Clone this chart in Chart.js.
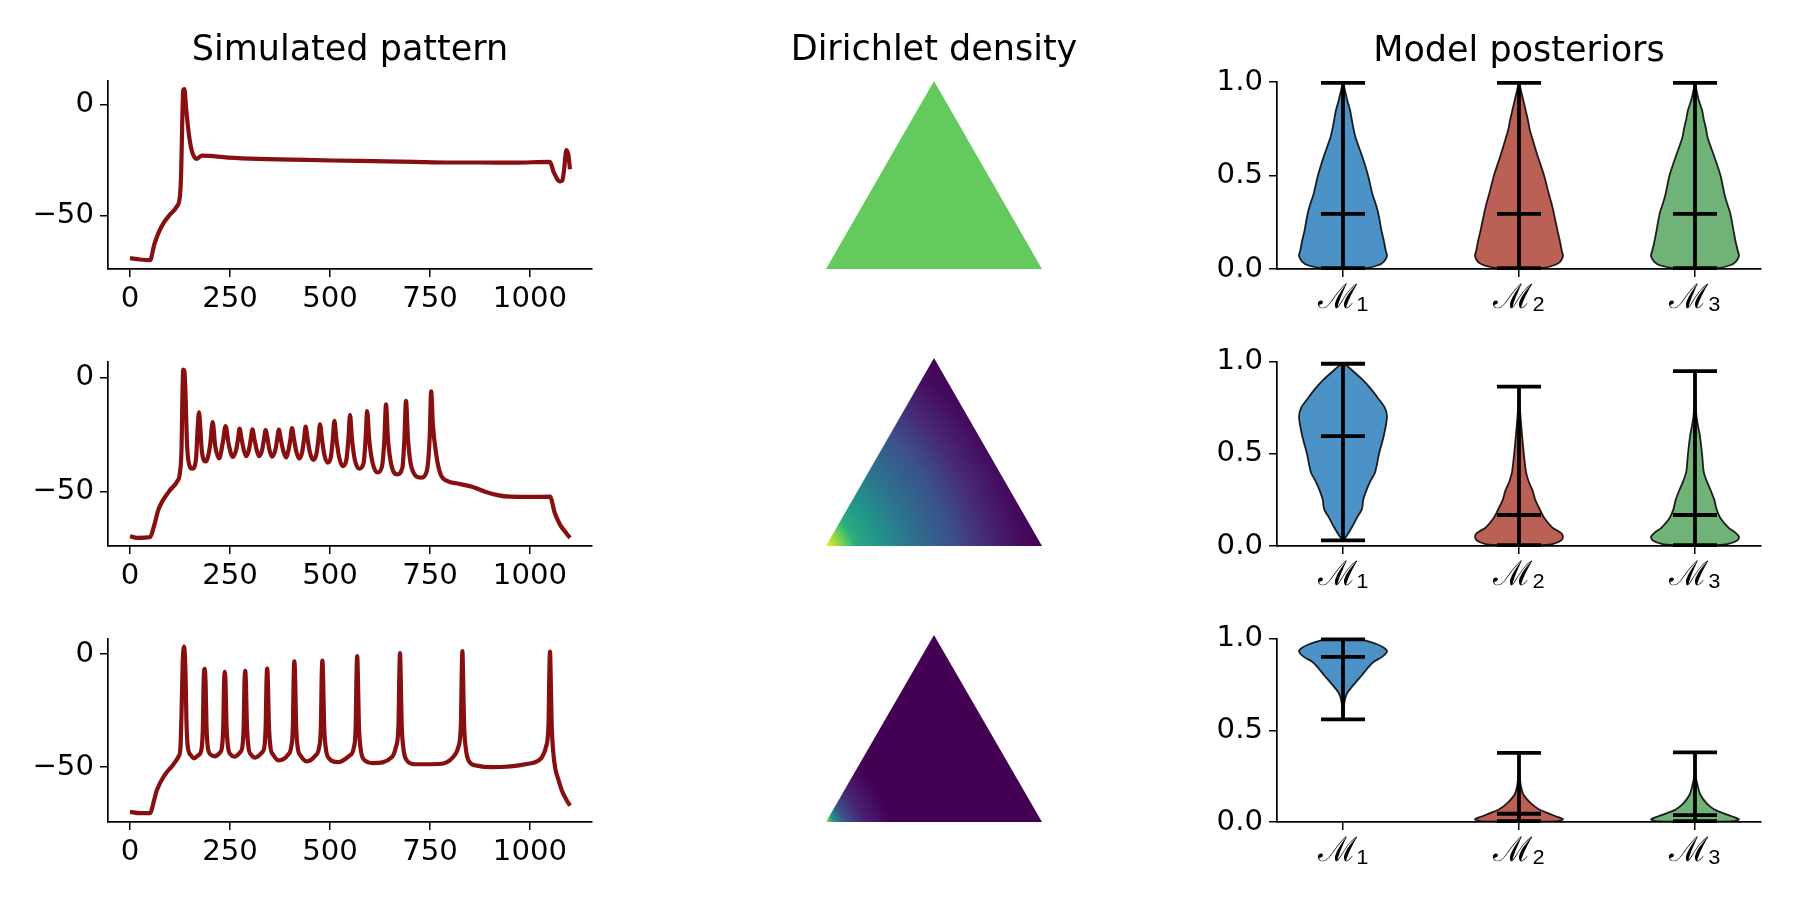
<!DOCTYPE html>
<html lang="en">
<head>
    <meta charset="UTF-8">
    <title>Simulated patterns, Dirichlet densities, model posteriors</title>
    <script src="https://cdn.jsdelivr.net/npm/chart.js@4"></script>
    <style>
        html, body { margin: 0; background: #fff; }
        #page { position: relative; width: 1800px; height: 900px; overflow: hidden; }
        canvas { position: absolute; }
    </style>
</head>
<body>
<div id="page"></div>
<script>
// titles and ticks
var columnTitles = ['Simulated pattern', 'Dirichlet density', 'Model posteriors'];
var traceTicksX = [0, 250, 500, 750, 1000];
var traceTicksY = [-50, 0];
var modelLabels = ['ℳ₁', 'ℳ₂', 'ℳ₃'];
var modelTicks = [1, 2, 3];
var posteriorTicks = [0, 0.5, 1];

// voltage traces
var trace1X = [0, 25, 50, 61, 71, 83, 100, 117, 125, 128, 130, 133, 136, 140, 147, 154, 166, 180, 245, 320, 401, 505, 610, 712, 790, 867, 960, 1050, 1059, 1075, 1081, 1085, 1091, 1096, 1100];
var trace1Y = [-69.3, -69.9, -70.2, -63, -58, -53.7, -49.6, -46, -41, -30, -13, 6.6, 7, -1, -13, -20.5, -24.5, -23, -23.9, -24.5, -24.8, -25.2, -25.5, -25.8, -26.1, -26.1, -26.2, -25.8, -30.4, -34.6, -34.1, -29.6, -20.5, -22.8, -29.2];

var trace2X = [0, 18, 50, 61, 71, 83, 100, 117, 125, 129, 131, 133, 136, 139, 142, 146, 156,
    165, 169, 172.5, 176, 180, 190, 200, 206.7, 213, 223, 232, 239, 246, 257, 265, 270, 274, 279, 285, 291, 297, 302, 306, 311, 317, 323,
    330, 335, 339, 344, 349, 355, 363, 368, 372, 377, 383, 390, 396, 401, 405, 410, 416, 423, 430, 435, 439, 444, 450, 458, 466, 471, 475, 480, 486, 494,
    502, 507, 511, 516, 523, 532, 541, 546, 550, 555, 562, 573, 584, 589, 593, 598, 606, 619, 630, 636, 640, 645, 653, 668, 681, 686, 690, 695, 704, 727, 742, 749, 753, 757, 766, 776, 795, 815, 857, 888, 919, 950, 1000, 1050, 1062, 1075, 1090, 1100];
var trace2Y = [-69.7, -70.4, -70.1, -64.6, -58, -53.7, -49.4, -45.8, -41.5, -29.9, -8.2, 3.6, 3, -8.2, -27, -36.4, -40,
    -35.7, -22.7, -15.2, -22.7, -32.8, -36.8, -29.9, -19.5, -29.9, -35.4, -28.5, -21.2, -28.5, -34.8, -32, -27, -22.3, -27, -32, -34.5, -32, -27, -22.7, -27, -32, -34.5,
    -32, -27, -23, -27, -32, -34.7, -32, -27, -22.8, -27, -32, -35, -32, -27, -22.1, -27, -32.5, -35.5, -33, -27, -21.5, -27, -33, -36.1, -33.5, -27, -20.4, -27, -34, -37.3,
    -35, -27, -18.9, -27, -35, -38.9, -36, -27, -16.3, -27, -36, -40, -37.5, -27, -14.6, -27, -37, -41.6, -39, -27, -11.6, -27, -38, -42.5, -39.5, -27, -10.1, -27, -39.5, -43.9, -41, -27, -5.9, -20, -34.2, -42.2, -45.5, -46.4, -48, -50.1, -51.6, -52.3, -52.4, -52.3, -59.5, -64.6, -68.2, -70.4];

var trace3X = [0, 25, 50, 61, 67, 87.5, 108, 121, 126, 128, 130, 131.7, 135, 139, 141, 144, 152, 160, 171, 179, 182.5, 184, 186.7, 189, 191, 195, 204, 211,
    225, 230, 233.5, 235, 237, 239, 241, 245, 252, 261,
    275, 281, 284.5, 286, 288, 290, 292, 296, 303, 313,
    330, 336, 339.5, 341, 343, 345, 347, 351, 358, 372,
    395, 403, 407.5, 409, 411, 413, 415, 419, 427, 442,
    463, 473, 477.5, 479, 481, 483, 485, 489, 497, 520,
    548, 560, 564.5, 566, 568, 570, 572, 576, 584, 608,
    655, 665, 671.5, 673, 675, 677, 679, 683, 692, 712, 774,
    808, 821, 827.5, 829, 831, 833, 835, 839, 848, 867, 904, 992,
    1028, 1040, 1046.5, 1048, 1050, 1052, 1054, 1058, 1064, 1072, 1080, 1090, 1100];
var trace3Y = [-69.7, -70.3, -70.3, -64.1, -60.2, -53.3, -48.9, -45.4, -41.8, -31.7, -17.3, -4.3, 3.2, -10, -28.8, -40.3, -44.7, -46.1, -44.7, -41.8, -30.2, -12.9, -6.6, -12.9, -30.2, -41.8, -44.7, -45.2,
    -43.5, -41, -30, -14, -7.9, -14, -30, -41, -44.5, -45.4,
    -43.5, -41, -30, -14, -7.5, -14, -30, -41, -44.5, -45.8,
    -43.5, -41, -30, -14, -6.5, -14, -30, -41, -44.5, -47,
    -44.5, -41, -30, -12, -3.3, -12, -30, -41, -45, -47.4,
    -45, -41, -30, -12, -3, -12, -30, -41, -46, -47.8,
    -45, -41, -30, -12, -1, -12, -30, -41, -46.5, -48.2,
    -45.5, -41, -30, -12, 0.4, -12, -30, -41, -47, -48.7, -48.6,
    -45.5, -41, -30, -12, 1.2, -12, -30, -41, -47.5, -49.3, -50, -48.6,
    -46, -41, -30, -12, 1, -12, -30, -43, -51.2, -56, -60.5, -64, -67];

// density along the edge from the lower left corner (fraction of the side)
var viridis = ['#440154', '#482475', '#414487', '#355f8d', '#2a788e', '#21918c', '#22a884', '#44bf70', '#7ad151', '#bddf26', '#fde725'];
var simplexX = [0, 0.5, 1];
var simplexY = [0, 1, 0];
var densityDist = [0, 0.08, 0.14, 0.25, 0.4, 0.6, 0.74, 0.9, 1];
var density1 = [0.76, 0.76, 0.76, 0.76, 0.76, 0.76, 0.76, 0.76, 0.76];
var density2 = [1, 0.8, 0.62, 0.52, 0.38, 0.24, 0.12, 0.03, 0];
var density3Dist = [0, 0.015, 0.04, 0.09, 0.17, 0.3, 1];
var density3 = [1, 0.75, 0.5, 0.25, 0.1, 0, 0];

// violin outlines: posterior level and relative density
var v11Level = [0.005, 0.02, 0.04, 0.07, 0.1, 0.15, 0.2, 0.3, 0.35, 0.4, 0.5, 0.6, 0.7, 0.75, 0.8, 0.85, 0.9, 0.95, 0.995];
var v11Dens = [0.52, 0.8, 0.93, 1, 0.97, 0.93, 0.88, 0.8, 0.74, 0.67, 0.57, 0.44, 0.29, 0.24, 0.2, 0.16, 0.1, 0.05, 0.005];
var v12Dens = [0.52, 0.8, 0.94, 1, 0.97, 0.93, 0.88, 0.79, 0.74, 0.68, 0.57, 0.43, 0.3, 0.24, 0.2, 0.15, 0.1, 0.05, 0.005];
var v13Dens = [0.52, 0.8, 0.93, 1, 0.97, 0.92, 0.88, 0.8, 0.73, 0.67, 0.58, 0.44, 0.29, 0.25, 0.2, 0.16, 0.09, 0.04, 0.005];

var v21Level = [0.03, 0.05, 0.1, 0.15, 0.2, 0.25, 0.3, 0.35, 0.4, 0.5, 0.6, 0.7, 0.75, 0.8, 0.85, 0.9, 0.95, 0.99];
var v21Dens = [0.005, 0.07, 0.2, 0.31, 0.43, 0.46, 0.53, 0.62, 0.73, 0.82, 0.93, 1, 0.95, 0.8, 0.64, 0.45, 0.22, 0.02];
var v22Level = [0.005, 0.01, 0.03, 0.05, 0.07, 0.1, 0.15, 0.2, 0.25, 0.3, 0.35, 0.4, 0.5, 0.6, 0.7, 0.75, 0.8, 0.865];
var v22Dens = [0.53, 0.76, 0.96, 1, 0.96, 0.76, 0.58, 0.47, 0.37, 0.31, 0.22, 0.16, 0.11, 0.07, 0.035, 0.02, 0.01, 0.002];
var v23Level = [0.005, 0.01, 0.03, 0.05, 0.07, 0.1, 0.15, 0.2, 0.25, 0.3, 0.35, 0.4, 0.5, 0.6, 0.65, 0.7, 0.8, 0.95];
var v23Dens = [0.5, 0.74, 0.96, 1, 0.93, 0.76, 0.58, 0.49, 0.44, 0.36, 0.27, 0.2, 0.16, 0.11, 0.07, 0.035, 0.01, 0.002];

var v31Level = [0.56, 0.6, 0.65, 0.7, 0.75, 0.8, 0.85, 0.875, 0.9, 0.93, 0.95, 0.97, 0.99, 0.995];
var v31Dens = [0.005, 0.02, 0.03, 0.09, 0.25, 0.43, 0.6, 0.71, 0.89, 1, 0.93, 0.76, 0.5, 0.45];
var v32Level = [0.002, 0.005, 0.015, 0.03, 0.05, 0.07, 0.1, 0.15, 0.2, 0.25, 0.3, 0.38];
var v32Dens = [0.45, 0.9, 1, 0.85, 0.64, 0.45, 0.28, 0.1, 0.04, 0.015, 0.005, 0.002];
var v33Level = [0.002, 0.005, 0.015, 0.03, 0.05, 0.07, 0.1, 0.15, 0.2, 0.25, 0.3, 0.38];
var v33Dens = [0.45, 0.9, 1, 0.85, 0.62, 0.43, 0.27, 0.12, 0.06, 0.015, 0.005, 0.002];

// min, max and median of each violin
var row1Min = [0.005, 0.005, 0.005];
var row1Max = [0.995, 0.995, 0.995];
var row1Med = [0.295, 0.295, 0.295];
var row2Min = [0.03, 0.005, 0.005];
var row2Max = [0.988, 0.864, 0.948];
var row2Med = [0.596, 0.168, 0.168];
var row3Min = [0.559, 0.005, 0.005];
var row3Max = [0.995, 0.377, 0.379];
var row3Med = [0.9, 0.045, 0.0375];

// styles and layout
var traceColor = '#870f0f';
var violinColors = ['#4c92c6', '#bb6054', '#70b278'];
var axisColor = '#000';
var tickSize = 29.2;
var modelLabelSize = 34;
var titleSize = 35;
var titleGap = 21;
var rowTops = [81, 358, 635];
var rowBottoms = [269, 546, 822];
var colLefts = [108, 826, 1277];
var colRights = [592, 1042, 1761];
var padLeft = 100, padRight = 100, padTop = 20, padTitle = 73, padBottom = 70;
var gradientBehind = 0.5; // how far behind the corner the density rings are centred

Chart.defaults.font.family = '"DejaVu Sans"';
Chart.defaults.color = '#000';
Chart.defaults.animation = false;

// column title, centred over the axes whatever the width of the axes
var columnTitlePlugin = {
    id: 'columnTitle',
    afterDraw: function (chart, args, opts) {
        if (!opts.text) { return; }
        var ctx = chart.ctx, area = chart.chartArea;
        ctx.save();
        ctx.font = titleSize + 'px "DejaVu Sans"';
        ctx.fillStyle = '#000';
        ctx.textAlign = 'center';
        ctx.textBaseline = 'alphabetic';
        ctx.fillText(opts.text, (area.left + area.right) / 2, area.top - titleGap);
        ctx.restore();
    }
};

function addChart(row, col, hasAxes, config) {
    var top = rowTops[row] + (col === 2 && row === 0 ? 1 : 0), bottom = rowBottoms[row], left = colLefts[col], right = colRights[col];
    var aboveArea = row === 0 ? padTitle : padTop;
    var canvas = document.createElement('canvas');
    canvas.width = right - left + padLeft + padRight;
    canvas.height = bottom - top + aboveArea + padBottom;
    canvas.style.left = (left - padLeft) + 'px';
    canvas.style.top = (top - aboveArea) + 'px';
    document.getElementById('page').appendChild(canvas);

    config.options.responsive = false;
    config.options.layout = {
        padding: {
            left: hasAxes ? 0 : padLeft,
            right: padRight,
            top: aboveArea,
            bottom: hasAxes ? 0 : padBottom
        }
    };
    config.options.plugins = {
        legend: { display: false },
        tooltip: { enabled: false },
        columnTitle: { text: row === 0 ? columnTitles[col] : '' }
    };
    config.plugins = [columnTitlePlugin];
    return new Chart(canvas, config);
}

function axis(min, max, tickValues, labelFn, isX, fontSize) {
    return {
        type: 'linear',
        min: min,
        max: max,
        border: { display: true, color: axisColor, width: 1.7 },
        grid: { display: true, drawOnChartArea: false, drawTicks: true, tickLength: 8, tickColor: axisColor, lineWidth: 1.5 },
        ticks: {
            autoSkip: false,
            maxRotation: 0,
            minRotation: 0,
            padding: isX ? 5 : 6,
            color: '#000',
            font: { size: fontSize },
            callback: labelFn
        },
        afterBuildTicks: function (scale) {
            scale.ticks = tickValues.map(function (v) { return { value: v }; });
        },
        afterFit: function (scale) {
            if (isX) { scale.height = padBottom; } else { scale.width = padLeft; }
        }
    };
}

function minusLabel(v) {
    return String(v).replace('-', '\u2212');
}

function addTrace(row, xs, ys, yMin, yMax) {
    addChart(row, 0, true, {
        type: 'scatter',
        data: {
            datasets: [{
                data: xs.map(function (x, i) { return { x: x, y: ys[i] }; }),
                showLine: true,
                borderColor: traceColor,
                borderWidth: 4.2,
                borderJoinStyle: 'round',
                cubicInterpolationMode: 'monotone',
                pointRadius: 0
            }]
        },
        options: {
            scales: {
                x: axis(-55, 1155, traceTicksX, minusLabel, true, tickSize),
                y: axis(yMin, yMax, traceTicksY, minusLabel, false, tickSize)
            }
        }
    });
}

function hexToRgb(h) {
    return [parseInt(h.substr(1, 2), 16), parseInt(h.substr(3, 2), 16), parseInt(h.substr(5, 2), 16)];
}

function densityColor(v) {
    var pos = v * (viridis.length - 1);
    var i = Math.min(Math.floor(pos), viridis.length - 2);
    var a = hexToRgb(viridis[i]), b = hexToRgb(viridis[i + 1]), t = pos - i;
    return 'rgb(' + a.map(function (c, k) { return Math.round(c + (b[k] - c) * t); }).join(',') + ')';
}

function addSimplex(row, dists, values) {
    addChart(row, 1, false, {
        type: 'scatter',
        data: {
            datasets: [{
                data: simplexX.map(function (x, i) { return { x: x, y: simplexY[i] }; }),
                showLine: true,
                borderWidth: 0,
                pointRadius: 0,
                fill: 'origin',
                backgroundColor: function (context) {
                    var chart = context.chart;
                    if (!chart.chartArea) { return 'transparent'; }
                    var sx = chart.scales.x, sy = chart.scales.y;
                    var side = sx.getPixelForValue(1) - sx.getPixelForValue(0);
                    var o = gradientBehind;
                    // rings centred behind the corner on the bisector of the angle
                    var cx = sx.getPixelForValue(0) - o * side * Math.cos(Math.PI / 6);
                    var cy = sy.getPixelForValue(0) + o * side * Math.sin(Math.PI / 6);
                    var ring = function (d) { return Math.sqrt(o * o + d * d + 2 * o * d * Math.cos(Math.PI / 6)); };
                    var g = chart.ctx.createRadialGradient(cx, cy, o * side, cx, cy, ring(1) * side);
                    dists.forEach(function (d, i) {
                        g.addColorStop((ring(d) - o) / (ring(1) - o), densityColor(values[i]));
                    });
                    return g;
                }
            }]
        },
        options: {
            scales: {
                x: { type: 'linear', min: 0, max: 1, display: false },
                y: { type: 'linear', min: 0, max: 1, display: false }
            }
        }
    });
}

function segment(x0, y0, x1, y1, width) {
    return {
        data: [{ x: x0, y: y0 }, { x: x1, y: y1 }],
        showLine: true,
        borderColor: '#000',
        borderWidth: width,
        borderCapStyle: 'butt',
        pointRadius: 0,
        clip: false
    };
}

function addViolins(row, levels, densities, mins, maxs, meds) {
    var sets = [];
    modelTicks.forEach(function (m, i) {
        var capHalf = 0.125;
        sets.push(segment(m, mins[i], m, maxs[i], 3.8));
        sets.push(segment(m - capHalf, mins[i], m + capHalf, mins[i], 3.8));
        sets.push(segment(m - capHalf, maxs[i], m + capHalf, maxs[i], 3.8));
        sets.push(segment(m - capHalf, meds[i], m + capHalf, meds[i], 3.8));
    });
    modelTicks.forEach(function (m, i) {
        var left = levels[i].map(function (l, k) { return { x: m - 0.25 * densities[i][k], y: l }; });
        var right = levels[i].map(function (l, k) { return { x: m + 0.25 * densities[i][k], y: l }; }).reverse();
        sets.push({
            data: left.concat(right, [left[0]]),
            showLine: true,
            borderColor: 'rgba(0,0,0,0.85)',
            borderWidth: 1.8,
            backgroundColor: violinColors[i],
            fill: 'shape',
            tension: 0.25,
            pointRadius: 0
        });
    });
    var xAxis = axis(0.625, 3.375, modelTicks, function (v) { return modelLabels[v - 1]; }, true, modelLabelSize);
    xAxis.ticks.font.family = '"Liberation Sans"';
    xAxis.ticks.padding = 1;
    addChart(row, 2, true, {
        type: 'scatter',
        data: { datasets: sets },
        options: {
            scales: {
                x: xAxis,
                y: axis(0, 1, posteriorTicks, function (v) { return v.toFixed(1); }, false, tickSize)
            }
        }
    });
}

addTrace(0, trace1X, trace1Y, -74.2, 10.7);
addTrace(1, trace2X, trace2Y, -74, 7.2);
addTrace(2, trace3X, trace3Y, -74.2, 6.8);

addSimplex(0, densityDist, density1);
addSimplex(1, densityDist, density2);
addSimplex(2, density3Dist, density3);

addViolins(0, [v11Level, v11Level, v11Level], [v11Dens, v12Dens, v13Dens], row1Min, row1Max, row1Med);
addViolins(1, [v21Level, v22Level, v23Level], [v21Dens, v22Dens, v23Dens], row2Min, row2Max, row2Med);
addViolins(2, [v31Level, v32Level, v33Level], [v31Dens, v32Dens, v33Dens], row3Min, row3Max, row3Med);
</script>
</body>
</html>
